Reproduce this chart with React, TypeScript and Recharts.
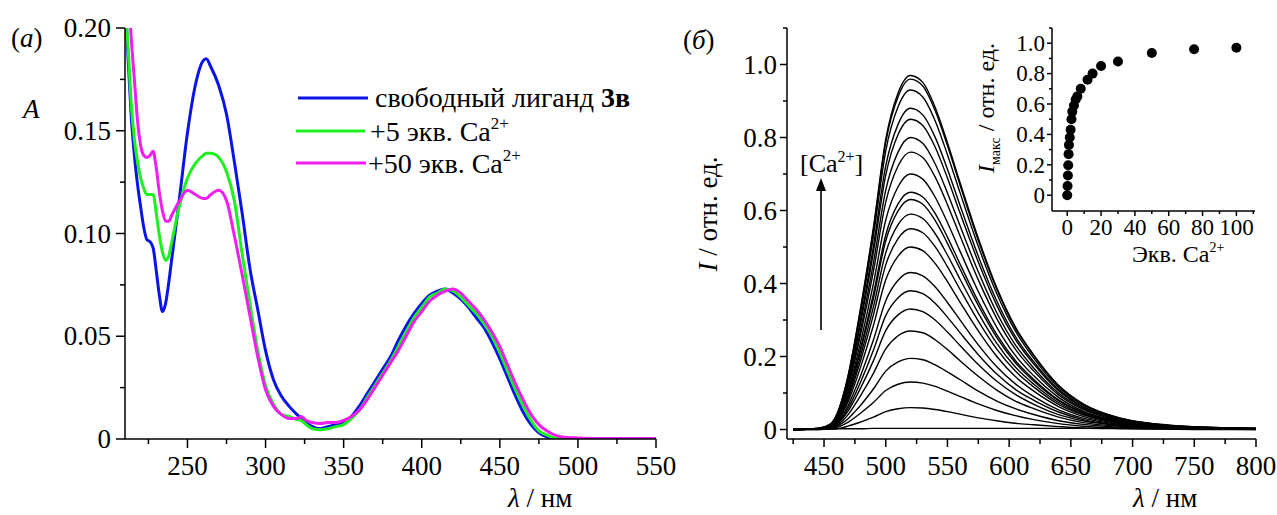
import React from 'react';
import { LineChart, Line, XAxis, YAxis, ScatterChart, Scatter } from 'recharts';

const FONT = 'Liberation Serif';

// ---------- Panel (а): absorption spectra ----------
const ABS_WL = [
  210, 212, 214, 216, 218, 220, 222, 224, 226, 228,
  230, 232, 234, 236, 238, 240,
  245, 250, 255, 260, 262, 265, 270, 275, 280,
  285, 290, 295, 300, 305, 310, 315, 320, 323, 326,
  330, 335, 340, 345, 350, 355, 360, 365, 370, 375,
  380, 385, 390, 395, 400, 405, 410, 415, 420, 425,
  430, 435, 440, 445, 450, 455, 460, 465, 470, 475,
  480, 485, 490, 500, 510, 530, 550,
];
const ABS_FREE = [
  0.215, 0.185, 0.157, 0.138, 0.124, 0.113, 0.103, 0.097, 0.096, 0.093,
  0.082, 0.070, 0.062, 0.066, 0.076, 0.088,
  0.118, 0.149, 0.172, 0.184, 0.185, 0.181, 0.172, 0.158, 0.135,
  0.110, 0.083, 0.063, 0.043, 0.029, 0.021, 0.016, 0.012, 0.010, 0.008,
  0.006, 0.005, 0.006, 0.007, 0.008, 0.011, 0.016, 0.022, 0.028, 0.034,
  0.040, 0.048, 0.055, 0.061, 0.066, 0.070, 0.072, 0.073, 0.071, 0.068,
  0.064, 0.059, 0.054, 0.047, 0.039, 0.030, 0.021, 0.013, 0.007, 0.003,
  0.001, 0, 0, 0, 0, 0, 0,
];
const ABS_CA5 = [
  0.215, 0.190, 0.163, 0.146, 0.135, 0.127, 0.122, 0.119, 0.119, 0.119,
  0.110, 0.099, 0.091, 0.087, 0.089, 0.096,
  0.114, 0.127, 0.134, 0.138, 0.139, 0.139, 0.137, 0.130, 0.116,
  0.090, 0.066, 0.043, 0.026, 0.017, 0.012, 0.011, 0.0095, 0.009, 0.007,
  0.005, 0.0045, 0.005, 0.006, 0.007, 0.010, 0.014, 0.020, 0.026, 0.032,
  0.038, 0.045, 0.052, 0.059, 0.064, 0.069, 0.071, 0.073, 0.072, 0.069,
  0.065, 0.061, 0.056, 0.050, 0.042, 0.033, 0.024, 0.016, 0.009, 0.004,
  0.002, 0.0005, 0, 0, 0, 0, 0,
];
const ABS_CA50 = [
  0.26, 0.222, 0.195, 0.175, 0.155, 0.143, 0.138, 0.137, 0.138, 0.140,
  0.132, 0.120, 0.111, 0.106, 0.106, 0.109,
  0.116, 0.121, 0.119, 0.117, 0.117, 0.119, 0.121, 0.116, 0.099,
  0.080, 0.060, 0.040, 0.024, 0.016, 0.012, 0.010, 0.010, 0.011, 0.009,
  0.008, 0.0075, 0.008, 0.008, 0.009, 0.011, 0.014, 0.019, 0.025, 0.031,
  0.037, 0.043, 0.050, 0.057, 0.062, 0.067, 0.070, 0.072, 0.073, 0.071,
  0.067, 0.063, 0.058, 0.052, 0.045, 0.036, 0.027, 0.019, 0.012, 0.007,
  0.004, 0.002, 0.001, 0.0005, 0.0003, 0.0002, 0.0002,
];
const ABS_X_TICKS = [225, 250, 275, 300, 325, 350, 375, 400, 425, 450, 475, 500, 525, 550];
const ABS_X_MAJOR = [250, 300, 350, 400, 450, 500, 550];
const ABS_X_LABELS = ['250', '300', '350', '400', '450', '500', '550'];
const ABS_Y_TICKS = [0, 0.025, 0.05, 0.075, 0.1, 0.125, 0.15, 0.175, 0.2];
const ABS_Y_MAJOR = [0, 0.05, 0.1, 0.15, 0.2];
const ABS_Y_LABELS = ['0', '0.05', '0.10', '0.15', '0.20'];

// ---------- Panel (б): emission spectra ----------
const FL_WL = [425, 445, 455, 460, 465, 470, 475, 480, 490, 500, 510, 520, 530, 540, 550, 560, 575, 590, 605, 620, 640, 660, 690, 720, 760, 800];
const FL_0 = [0.001, 0.001, 0.001, 0.002, 0.002, 0.002, 0.002, 0.002, 0.003, 0.003, 0.003, 0.003, 0.003, 0.003, 0.003, 0.003, 0.003, 0.003, 0.003, 0.003, 0.003, 0.003, 0.003, 0.003, 0.003, 0.003];
const FL_1 = [0, 0, 0.001, 0.002, 0.005, 0.010, 0.015, 0.021, 0.034, 0.049, 0.057, 0.060, 0.059, 0.055, 0.049, 0.042, 0.032, 0.024, 0.017, 0.013, 0.008, 0.004, 0.002, 0.001, 0, 0];
const FL_2 = [0, 0, 0.002, 0.005, 0.012, 0.021, 0.033, 0.046, 0.074, 0.107, 0.124, 0.130, 0.127, 0.118, 0.105, 0.091, 0.070, 0.052, 0.038, 0.027, 0.016, 0.009, 0.004, 0.002, 0.001, 0];
const FL_3 = [0, 0.001, 0.003, 0.008, 0.018, 0.031, 0.049, 0.068, 0.111, 0.160, 0.185, 0.195, 0.191, 0.177, 0.158, 0.137, 0.105, 0.078, 0.057, 0.041, 0.024, 0.014, 0.006, 0.003, 0.001, 0.001];
const FL_4 = [0, 0.001, 0.004, 0.011, 0.024, 0.043, 0.068, 0.095, 0.154, 0.221, 0.257, 0.270, 0.265, 0.246, 0.219, 0.189, 0.146, 0.108, 0.078, 0.057, 0.034, 0.019, 0.009, 0.004, 0.002, 0.001];
const FL_5 = [0, 0.001, 0.005, 0.013, 0.030, 0.053, 0.083, 0.116, 0.188, 0.271, 0.314, 0.330, 0.323, 0.300, 0.267, 0.231, 0.178, 0.132, 0.096, 0.069, 0.041, 0.024, 0.011, 0.005, 0.002, 0.001];
const FL_6 = [0, 0.001, 0.006, 0.015, 0.034, 0.061, 0.095, 0.133, 0.217, 0.312, 0.361, 0.380, 0.372, 0.346, 0.308, 0.266, 0.205, 0.152, 0.110, 0.080, 0.048, 0.027, 0.012, 0.006, 0.002, 0.001];
const FL_7 = [0, 0.001, 0.006, 0.017, 0.039, 0.069, 0.108, 0.151, 0.245, 0.353, 0.409, 0.430, 0.421, 0.391, 0.348, 0.301, 0.232, 0.172, 0.125, 0.090, 0.054, 0.031, 0.014, 0.006, 0.003, 0.001];
const FL_8 = [0, 0.002, 0.008, 0.020, 0.045, 0.080, 0.125, 0.175, 0.285, 0.410, 0.475, 0.500, 0.490, 0.455, 0.405, 0.350, 0.270, 0.200, 0.145, 0.105, 0.063, 0.036, 0.016, 0.008, 0.003, 0.002];
const FL_9 = [0, 0.002, 0.008, 0.022, 0.050, 0.088, 0.138, 0.193, 0.314, 0.451, 0.523, 0.550, 0.539, 0.501, 0.446, 0.385, 0.297, 0.220, 0.160, 0.116, 0.069, 0.040, 0.018, 0.008, 0.003, 0.002];
const FL_10 = [0, 0.002, 0.009, 0.024, 0.053, 0.094, 0.148, 0.207, 0.336, 0.484, 0.561, 0.590, 0.578, 0.537, 0.478, 0.413, 0.319, 0.236, 0.171, 0.124, 0.074, 0.042, 0.019, 0.009, 0.004, 0.002];
const FL_11 = [0, 0.002, 0.009, 0.025, 0.057, 0.101, 0.158, 0.221, 0.359, 0.517, 0.599, 0.630, 0.617, 0.573, 0.510, 0.441, 0.340, 0.252, 0.183, 0.132, 0.079, 0.045, 0.020, 0.009, 0.004, 0.002];
const FL_12 = [0, 0.002, 0.010, 0.026, 0.059, 0.104, 0.163, 0.228, 0.371, 0.533, 0.618, 0.650, 0.637, 0.592, 0.527, 0.455, 0.351, 0.260, 0.189, 0.137, 0.081, 0.047, 0.021, 0.010, 0.004, 0.002];
const FL_13 = [0, 0.002, 0.011, 0.028, 0.063, 0.112, 0.175, 0.245, 0.399, 0.574, 0.665, 0.700, 0.686, 0.637, 0.567, 0.490, 0.378, 0.280, 0.203, 0.147, 0.088, 0.050, 0.022, 0.011, 0.004, 0.002];
const FL_14 = [0, 0.002, 0.011, 0.030, 0.068, 0.122, 0.190, 0.266, 0.433, 0.623, 0.722, 0.760, 0.745, 0.692, 0.616, 0.532, 0.410, 0.304, 0.220, 0.160, 0.095, 0.055, 0.024, 0.011, 0.005, 0.002];
const FL_15 = [0, 0.002, 0.012, 0.032, 0.072, 0.128, 0.200, 0.280, 0.456, 0.656, 0.760, 0.800, 0.784, 0.728, 0.648, 0.560, 0.432, 0.320, 0.232, 0.168, 0.100, 0.058, 0.026, 0.012, 0.005, 0.002];
const FL_16 = [0, 0.003, 0.013, 0.034, 0.077, 0.136, 0.213, 0.298, 0.485, 0.697, 0.808, 0.850, 0.833, 0.774, 0.689, 0.595, 0.459, 0.340, 0.247, 0.179, 0.106, 0.061, 0.027, 0.013, 0.005, 0.003];
const FL_17 = [0, 0.003, 0.013, 0.035, 0.079, 0.141, 0.220, 0.308, 0.502, 0.722, 0.836, 0.880, 0.862, 0.801, 0.713, 0.616, 0.475, 0.352, 0.255, 0.185, 0.110, 0.063, 0.028, 0.013, 0.005, 0.003];
const FL_18 = [0, 0.003, 0.014, 0.037, 0.084, 0.149, 0.233, 0.326, 0.530, 0.763, 0.884, 0.930, 0.911, 0.846, 0.753, 0.651, 0.502, 0.372, 0.270, 0.195, 0.116, 0.067, 0.030, 0.014, 0.006, 0.003];
const FL_19 = [0, 0.003, 0.014, 0.038, 0.086, 0.154, 0.240, 0.336, 0.547, 0.787, 0.912, 0.960, 0.941, 0.874, 0.778, 0.672, 0.518, 0.384, 0.278, 0.202, 0.120, 0.069, 0.031, 0.014, 0.006, 0.003];
const FL_20 = [0, 0.003, 0.015, 0.039, 0.087, 0.155, 0.243, 0.340, 0.553, 0.795, 0.922, 0.970, 0.951, 0.883, 0.786, 0.679, 0.524, 0.388, 0.281, 0.204, 0.121, 0.070, 0.031, 0.015, 0.006, 0.003];
const FL_SERIES = [FL_0, FL_1, FL_2, FL_3, FL_4, FL_5, FL_6, FL_7, FL_8, FL_9, FL_10, FL_11, FL_12, FL_13, FL_14, FL_15, FL_16, FL_17, FL_18, FL_19, FL_20];
const FL_X_TICKS = [425, 450, 475, 500, 525, 550, 575, 600, 625, 650, 675, 700, 725, 750, 775, 800];
const FL_X_MAJOR = [450, 500, 550, 600, 650, 700, 750, 800];
const FL_X_LABELS = ['450', '500', '550', '600', '650', '700', '750', '800'];
const FL_Y_TICKS = [0, 0.1, 0.2, 0.3, 0.4, 0.5, 0.6, 0.7, 0.8, 0.9, 1.0, 1.1];
const FL_Y_MAJOR = [0, 0.2, 0.4, 0.6, 0.8, 1.0];
const FL_Y_LABELS = ['0', '0.2', '0.4', '0.6', '0.8', '1.0'];

// ---------- Inset: I_max vs equivalents ----------
const EQ = [0, 0.2, 0.4, 0.6, 0.8, 1, 1.5, 2, 2.5, 3, 4, 5, 6, 8, 12, 15, 20, 30, 50, 75, 100];
const IMAX = [0, 0.06, 0.13, 0.197, 0.27, 0.33, 0.38, 0.43, 0.50, 0.55, 0.59, 0.63, 0.65, 0.70, 0.76, 0.80, 0.85, 0.88, 0.935, 0.96, 0.97];
const IN_X_TICKS = [0, 10, 20, 30, 40, 50, 60, 70, 80, 90, 100, 110];
const IN_X_MAJOR = [0, 20, 40, 60, 80, 100];
const IN_X_LABELS = ['0', '20', '40', '60', '80', '100'];
const IN_Y_TICKS = [0, 0.1, 0.2, 0.3, 0.4, 0.5, 0.6, 0.7, 0.8, 0.9, 1.0, 1.1];
const IN_Y_MAJOR = [0, 0.2, 0.4, 0.6, 0.8, 1.0];
const IN_Y_LABELS = ['0', '0.2', '0.4', '0.6', '0.8', '1.0'];

// ---------- tables for the library ----------
const absFree = ABS_WL.map((wl, i) => ({ wl, a: ABS_FREE[i] }));
const absCa5 = ABS_WL.map((wl, i) => ({ wl, a: ABS_CA5[i] }));
const absCa50 = ABS_WL.map((wl, i) => ({ wl, a: ABS_CA50[i] }));
const flData = FL_WL.map((wl, i) => {
  const row: Record<string, number> = { wl };
  FL_SERIES.forEach((s, k) => { row['c' + k] = s[i]; });
  return row;
});
const insetData = EQ.map((eq, i) => ({ eq, v: IMAX[i] }));

type TickOpts = {
  side: 'bottom' | 'left';
  majors: number[];
  labels: string[];
  fontSize: number;
  majorLen: number;
  minorLen: number;
  gap: number;
};

function makeTick(o: TickOpts) {
  return (props: any) => {
    const { x, y, payload } = props;
    const v = payload.value;
    const idx = o.majors.findIndex((m) => Math.abs(m - v) < 1e-9);
    const isMajor = idx >= 0;
    const len = isMajor ? o.majorLen : o.minorLen;
    if (o.side === 'bottom') {
      return (
        <g>
          <line x1={x} x2={x} y1={y} y2={y + len} stroke="#000" strokeWidth={1.5} />
          {isMajor && (
            <text x={x} y={y + o.gap} textAnchor="middle" fontSize={o.fontSize} fontFamily={FONT} fill="#000">
              {o.labels[idx]}
            </text>
          )}
        </g>
      );
    }
    return (
      <g>
        <line x1={x - len} x2={x} y1={y} y2={y} stroke="#000" strokeWidth={1.5} />
        {isMajor && (
          <text x={x - o.gap} y={y} dy="0.34em" textAnchor="end" fontSize={o.fontSize} fontFamily={FONT} fill="#000">
            {o.labels[idx]}
          </text>
        )}
      </g>
    );
  };
}

const absXTick = makeTick({ side: 'bottom', majors: ABS_X_MAJOR, labels: ABS_X_LABELS, fontSize: 27, majorLen: 9, minorLen: 5, gap: 36 });
const absYTick = makeTick({ side: 'left', majors: ABS_Y_MAJOR, labels: ABS_Y_LABELS, fontSize: 27, majorLen: 9, minorLen: 5, gap: 14 });
const flXTick = makeTick({ side: 'bottom', majors: FL_X_MAJOR, labels: FL_X_LABELS, fontSize: 27, majorLen: 8, minorLen: 5, gap: 36 });
const flYTick = makeTick({ side: 'left', majors: FL_Y_MAJOR, labels: FL_Y_LABELS, fontSize: 27, majorLen: 7, minorLen: 4, gap: 10 });
const inXTick = makeTick({ side: 'bottom', majors: IN_X_MAJOR, labels: IN_X_LABELS, fontSize: 23, majorLen: 5, minorLen: 3, gap: 24 });
const inYTick = makeTick({ side: 'left', majors: IN_Y_MAJOR, labels: IN_Y_LABELS, fontSize: 23, majorLen: 5, minorLen: 3, gap: 7 });

const axisLine = { stroke: '#000', strokeWidth: 1.5 };

const BLUE = '#0a14e6';
const GREEN = '#1ef01e';
const MAGENTA = '#f01ef0';

const Dot = (props: any) => <circle cx={props.cx} cy={props.cy} r={5} fill="#000" />;

export default function App() {
  return (
    <div style={{ position: 'absolute', left: 0, top: 0, width: 1277, height: 515, background: '#fff' }}>
      <div style={{ position: 'absolute', left: 0, top: 0 }}>
        <LineChart width={680} height={515} margin={{ top: 28, right: 24, bottom: 75, left: 124 }}>
          <XAxis
            dataKey="wl"
            type="number"
            domain={[210, 550]}
            ticks={ABS_X_TICKS}
            interval={0}
            allowDataOverflow
            height={1}
            tickSize={0}
            tickMargin={0}
            tickLine={false}
            axisLine={axisLine}
            tick={absXTick}
          />
          <YAxis
            type="number"
            domain={[0, 0.2]}
            ticks={ABS_Y_TICKS}
            interval={0}
            allowDataOverflow
            width={1}
            tickSize={0}
            tickMargin={0}
            tickLine={false}
            axisLine={axisLine}
            tick={absYTick}
          />
          <Line data={absFree} dataKey="a" type="monotone" stroke={BLUE} strokeWidth={3} dot={false} isAnimationActive={false} />
          <Line data={absCa5} dataKey="a" type="monotone" stroke={GREEN} strokeWidth={3} dot={false} isAnimationActive={false} />
          <Line data={absCa50} dataKey="a" type="monotone" stroke={MAGENTA} strokeWidth={3} dot={false} isAnimationActive={false} />
        </LineChart>
      </div>

      <div style={{ position: 'absolute', left: 680, top: 0 }}>
        <LineChart width={597} height={515} data={flData} margin={{ top: 28, right: 21, bottom: 75, left: 106 }}>
          <XAxis
            dataKey="wl"
            type="number"
            domain={[420, 800]}
            ticks={FL_X_TICKS}
            interval={0}
            height={1}
            tickSize={0}
            tickMargin={0}
            tickLine={false}
            axisLine={axisLine}
            tick={flXTick}
          />
          <YAxis
            type="number"
            domain={[-0.026, 1.1]}
            ticks={FL_Y_TICKS}
            interval={0}
            allowDataOverflow
            width={1}
            tickSize={0}
            tickMargin={0}
            tickLine={false}
            axisLine={axisLine}
            tick={flYTick}
          />
          {FL_SERIES.map((_, k) => (
            <Line key={k} dataKey={'c' + k} type="monotone" stroke="#000" strokeWidth={1.4} dot={false} isAnimationActive={false} />
          ))}
        </LineChart>
      </div>

      <div style={{ position: 'absolute', left: 1000, top: 0 }}>
        <ScatterChart width={277} height={280} margin={{ top: 28, right: 22, bottom: 68, left: 51 }}>
          <XAxis
            dataKey="eq"
            type="number"
            domain={[-9, 111]}
            ticks={IN_X_TICKS}
            interval={0}
            height={1}
            tickSize={0}
            tickMargin={0}
            tickLine={false}
            axisLine={axisLine}
            tick={inXTick}
          />
          <YAxis
            dataKey="v"
            type="number"
            domain={[-0.104, 1.1]}
            ticks={IN_Y_TICKS}
            interval={0}
            width={1}
            tickSize={0}
            tickMargin={0}
            tickLine={false}
            axisLine={axisLine}
            tick={inYTick}
          />
          <Scatter data={insetData} fill="#000" shape={Dot} isAnimationActive={false} />
        </ScatterChart>
      </div>

      <svg width={1277} height={515} style={{ position: 'absolute', left: 0, top: 0, pointerEvents: 'none' }}>
        {/* panel (а) labels */}
        <text x={11} y={47} fontSize={27} fill="#000" fontFamily={FONT}>(<tspan fontStyle="italic">а</tspan>)</text>
        <text x={23} y={118} fontSize={27} fontStyle="italic" fill="#000" fontFamily={FONT}>A</text>
        <text x={508} y={507} fontSize={27} fill="#000" fontFamily={FONT}><tspan fontStyle="italic">λ</tspan> / нм</text>

        {/* legend */}
        <line x1={298} x2={368} y1={98} y2={98} stroke={BLUE} strokeWidth={3} />
        <text x={375} y={107} fontSize={28} fill="#000" fontFamily={FONT}>свободный лиганд <tspan fontWeight="bold">3в</tspan></text>
        <line x1={296} x2={365} y1={131} y2={131} stroke={GREEN} strokeWidth={3} />
        <text x={370} y={141} fontSize={28} fill="#000" fontFamily={FONT}>+5 экв. Ca<tspan dy={-12} fontSize={17}>2+</tspan></text>
        <line x1={296} x2={366} y1={163} y2={163} stroke={MAGENTA} strokeWidth={3} />
        <text x={368} y={173} fontSize={28} fill="#000" fontFamily={FONT}>+50 экв. Ca<tspan dy={-12} fontSize={17}>2+</tspan></text>

        {/* panel (б) labels */}
        <text x={683} y={49} fontSize={27} fill="#000" fontFamily={FONT}>(<tspan fontStyle="italic">б</tspan>)</text>
        <text transform="translate(717,214) rotate(-90)" textAnchor="middle" fontSize={27} fill="#000" fontFamily={FONT}>
          <tspan fontStyle="italic">I</tspan> / отн. ед.
        </text>
        <text x={1133} y={507} fontSize={27} fill="#000" fontFamily={FONT}><tspan fontStyle="italic">λ</tspan> / нм</text>
        <text x={800} y={172} fontSize={26} fill="#000" fontFamily={FONT}>[Ca<tspan dy={-10} fontSize={16}>2+</tspan><tspan dy={10}>]</tspan></text>
        <line x1={821} x2={821} y1={330} y2={188} stroke="#000" strokeWidth={1.6} />
        <polygon points="821,178 816,191 826,191" fill="#000" />

        {/* inset labels */}
        <text transform="translate(994,108) rotate(-90)" textAnchor="middle" fontSize={24} fill="#000" fontFamily={FONT}>
          <tspan fontStyle="italic">I</tspan><tspan dy={6} fontSize={14}>макс</tspan><tspan dy={-6}> / отн. ед.</tspan>
        </text>
        <text x={1132} y={262} fontSize={24} fill="#000" fontFamily={FONT}>Экв. Ca<tspan dy={-10} fontSize={14}>2+</tspan></text>
      </svg>
    </div>
  );
}
